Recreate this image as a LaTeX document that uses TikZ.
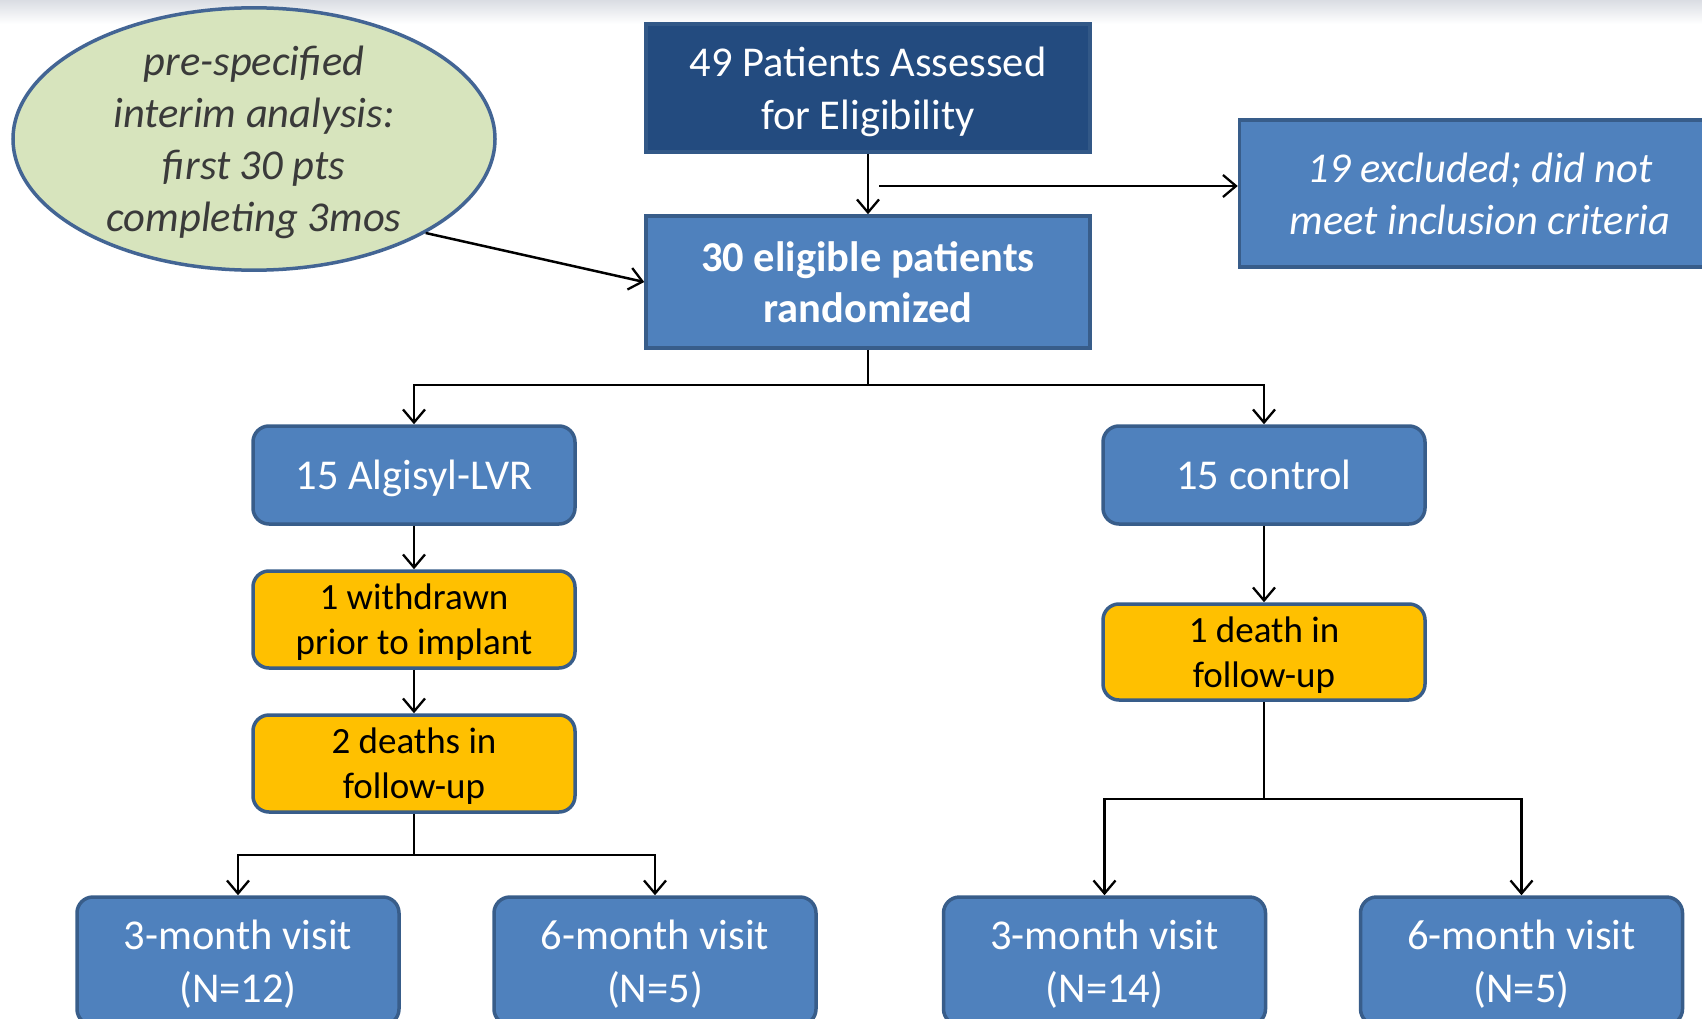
\documentclass[tikz,border=0pt]{standalone}
\usepackage{fontspec}
\setmainfont{Carlito}
\usetikzlibrary{arrows.meta,shapes.geometric}

\definecolor{navy}{HTML}{234B7F}
\definecolor{midblue}{HTML}{4F81BD}
\definecolor{edgeblue}{HTML}{385D8A}
\definecolor{amber}{HTML}{FFC000}
\definecolor{sage}{HTML}{D7E4BD}
\definecolor{noteedge}{HTML}{436594}
\definecolor{notetext}{HTML}{3A3A3A}
\definecolor{topband}{HTML}{DADDE3}

\begin{document}
\begin{tikzpicture}[x=1pt,y=-1pt,
  % descenders are left out when the text is centred in its box
  base/.style={draw=edgeblue, line width=3.5pt, align=center, inner sep=0pt,
    font=\fontsize{42.5}{53}\selectfont, text depth=0pt},
  darkbox/.style={base, fill=navy, draw=edgeblue!70!navy, text=white},
  bluebox/.style={base, fill=midblue, text=white},
  roundbox/.style={base, fill=midblue, text=white, rounded corners=16pt,
    minimum width=322pt, minimum height=98pt},
  warnbox/.style={base, fill=amber, text=black, rounded corners=16pt,
    minimum width=322pt, minimum height=97pt,
    font=\fontsize{37}{45}\selectfont},
  visitbox/.style={roundbox, minimum height=128pt},
  notebubble/.style={ellipse, draw=noteedge, line width=3.5pt, fill=sage,
    text=notetext, align=center, inner sep=0pt, text depth=0pt,
    minimum width=482pt, minimum height=256pt,
    font=\fontsize{42.5}{52}\selectfont\itshape},
  arr/.style={line width=2.5pt, -{Straight Barb[length=13pt,width=22pt,line width=2.3pt]}},
  ln/.style={line width=2.5pt}
]
\useasboundingbox (0,0) rectangle (1702,1019);
\clip (0,0) rectangle (1702,1019);

% soft grey band along the top edge
\shade[top color=topband, bottom color=white] (0,0) rectangle (1702,24);

% enrolment stage
\node[darkbox, minimum width=444pt, minimum height=128pt] (elig) at (868,88)
  {49 Patients Assessed\\for Eligibility};
\node[bluebox, minimum width=444pt, minimum height=132pt,
  font=\fontsize{42.5}{51}\selectfont\bfseries] (rand) at (868,282)
  {30 eligible patients\\randomized};
\node[bluebox, minimum width=481pt, minimum height=147pt,
  font=\fontsize{42.5}{52}\selectfont\itshape] (excl) at (1480,193.5)
  {19 excluded; did not\\meet inclusion criteria};
\node[notebubble] (note) at (254,139)
  {pre-specified\\interim analysis:\\first 30 pts\\completing 3mos};

% treatment arm
\node[roundbox] (alg) at (414,475) {15 Algisyl-LVR};
\node[warnbox] (wd) at (414,619.5) {1 withdrawn\\prior to implant};
\node[warnbox] (d2) at (414,763.5) {2 deaths in\\follow-up};
\node[visitbox] (v3a) at (238,961) {3-month visit\\(N=12)};
\node[visitbox] (v6a) at (655,961) {6-month visit\\(N=5)};

% control arm
\node[roundbox] (ctl) at (1264,475) {15 control};
\node[warnbox, minimum height=96pt] (d1) at (1264,652) {1 death in\\follow-up};
\node[visitbox] (v3c) at (1104.5,961) {3-month visit\\(N=14)};
\node[visitbox] (v6c) at (1521.5,961) {6-month visit\\(N=5)};

% branching points
\coordinate (exo) at (879,186);
\coordinate (s1) at (868,385);
\coordinate (s2) at (414,855);
\coordinate (s3) at (1264,799);

% connectors
\draw[arr] (elig.south) -- (rand.north);
\draw[arr] (exo) -- (exo -| excl.west);
\draw[arr] (note.south east) -- (rand.west);

\draw[ln] (rand.south) -- (s1);
\draw[arr] (s1) -| (alg.north);
\draw[arr] (s1) -| (ctl.north);

\draw[arr] (alg.south) -- (wd.north);
\draw[arr] (wd.south) -- (d2.north);
\draw[ln] (d2.south) -- (s2);
\draw[arr] (s2) -| (v3a.north);
\draw[arr] (s2) -| (v6a.north);

\draw[arr] (ctl.south) -- (d1.north);
\draw[ln] (d1.south) -- (s3);
\draw[arr] (s3) -| (v3c.north);
\draw[arr] (s3) -| (v6c.north);
\end{tikzpicture}
\end{document}
